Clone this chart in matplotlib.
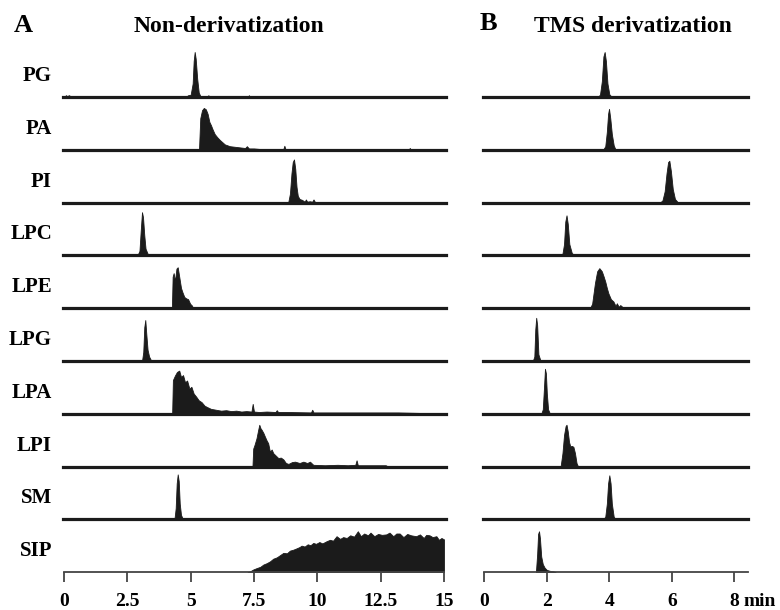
import matplotlib.pyplot as plt

plt.rcParams['font.family'] = ['Liberation Serif', 'DejaVu Serif']
plt.rcParams['font.weight'] = 'bold'

W, H = 780, 610

lipids = ["PG", "PA", "PI", "LPC", "LPE", "LPG", "LPA", "LPI", "SM", "SIP"]

# --- A: non-derivatization (time in min, relative intensity) ---
pg_nd_t = [0.0, 0.08, 0.12, 0.2, 0.3, 4.8, 4.9, 5.0, 5.08, 5.12, 5.16, 5.2, 5.26, 5.32, 5.4, 5.65, 5.7, 5.75, 7.25, 7.3, 7.35]
pg_nd_h = [0, 4, 2, 4, 0, 0, 4, 5, 30, 80, 100, 85, 40, 10, 0, 0, 4, 0, 0, 4, 0]
pa_nd_t = [5.33, 5.38, 5.45, 5.52, 5.6, 5.67, 5.74, 5.8, 5.87, 5.95, 6.05, 6.15, 6.25, 6.35, 6.45, 6.55, 6.7, 6.85,
           7.0, 7.15, 7.22, 7.3, 7.5, 7.7, 8.0, 8.65, 8.7, 8.75, 9.0, 13.6, 13.65, 13.7]
pa_nd_h = [0, 70, 88, 93, 90, 80, 62, 55, 45, 35, 28, 22, 17, 12, 10, 8, 7, 6, 5, 4, 8, 3, 3, 2, 0, 0, 9, 0, 0, 0, 4, 0]
pi_nd_t = [8.85, 8.92, 8.98, 9.03, 9.08, 9.13, 9.18, 9.23, 9.3, 9.4, 9.5, 9.55, 9.6, 9.7, 9.8, 9.85, 9.9, 10.0]
pi_nd_h = [0, 20, 65, 90, 96, 75, 35, 15, 8, 6, 2, 7, 2, 3, 2, 7, 2, 0]
lpc_nd_t = [2.9, 2.98, 3.03, 3.08, 3.12, 3.17, 3.22, 3.3, 3.4]
lpc_nd_h = [0, 10, 55, 96, 85, 45, 15, 4, 0]
lpe_nd_t = [4.26, 4.29, 4.33, 4.38, 4.44, 4.49, 4.55, 4.62, 4.68, 4.75, 4.82, 4.9, 4.98, 5.05, 5.1]
lpe_nd_h = [0, 70, 78, 60, 88, 91, 70, 45, 35, 25, 22, 20, 10, 6, 0]
lpg_nd_t = [3.08, 3.13, 3.17, 3.21, 3.25, 3.3, 3.36, 3.45]
lpg_nd_h = [0, 20, 75, 91, 60, 25, 10, 0]
lpa_nd_t = [4.27, 4.3, 4.38, 4.46, 4.55, 4.62, 4.7, 4.78, 4.86, 4.95, 5.03, 5.12, 5.22, 5.32, 5.43, 5.55, 5.65, 5.8,
            6.0, 6.2, 6.4, 6.6, 6.8, 7.0, 7.2, 7.4, 7.45, 7.5, 7.7, 8.0, 8.35, 8.4, 8.45, 8.8, 9.75, 9.8, 9.85,
            10.5, 11.0, 11.7, 12.4, 13.2, 14.0, 15.0]
lpa_nd_h = [0, 75, 85, 93, 96, 82, 86, 70, 74, 56, 60, 45, 38, 30, 26, 18, 15, 11, 9, 7, 8, 6, 7, 5, 6, 5, 22, 5,
            4, 5, 4, 8, 4, 4, 3, 9, 3, 3, 3, 3, 3, 3, 2, 0]
lpi_nd_t = [7.44, 7.47, 7.52, 7.6, 7.66, 7.71, 7.76, 7.8, 7.87, 7.93, 8.0, 8.06, 8.13, 8.2, 8.26, 8.35, 8.46, 8.56,
            8.66, 8.76, 8.86, 9.0, 9.12, 9.3, 9.45, 9.6, 9.71, 9.84, 10.3, 10.8, 11.2, 11.5, 11.55, 11.6, 12.0,
            12.7, 12.8]
lpi_nd_h = [0, 40, 48, 63, 80, 93, 85, 82, 75, 67, 58, 52, 33, 38, 30, 25, 19, 20, 16, 8, 6, 10, 11, 8, 11, 8, 11,
            4, 3, 4, 3, 4, 14, 3, 3, 3, 0]
sm_nd_t = [4.36, 4.41, 4.45, 4.49, 4.53, 4.57, 4.62, 4.7]
sm_nd_h = [0, 25, 80, 100, 85, 35, 10, 0]
sip_nd_t = [7.25, 7.35, 7.47, 7.6, 7.75, 7.87, 8.0, 8.13, 8.26, 8.4, 8.53, 8.66, 8.8, 8.92, 9.05, 9.18, 9.3, 9.38,
            9.5, 9.62, 9.73, 9.84, 9.95, 10.08, 10.2, 10.37, 10.5, 10.62, 10.76, 10.9, 11.02, 11.16, 11.3, 11.45,
            11.6, 11.72, 11.85, 12.0, 12.1, 12.25, 12.4, 12.55, 12.72, 12.85, 13.0, 13.12, 13.25, 13.4, 13.55,
            13.7, 13.9, 14.05, 14.2, 14.3, 14.43, 14.55, 14.7, 14.8, 14.9, 15.0, 15.0]
sip_nd_h = [0, 2, 6, 9, 12, 17, 20, 24, 30, 33, 38, 43, 42, 48, 50, 53, 56, 59, 57, 62, 60, 65, 63, 67, 64, 69, 72,
            70, 80, 74, 78, 76, 82, 79, 91, 80, 86, 82, 88, 80, 85, 83, 84, 88, 80, 86, 86, 78, 85, 82, 80, 84, 76,
            83, 82, 78, 80, 72, 76, 73, 0]

# --- B: TMS derivatization ---
pg_tms_t = [3.62, 3.7, 3.76, 3.81, 3.85, 3.89, 3.94, 4.0, 4.08]
pg_tms_h = [0, 5, 35, 90, 100, 80, 30, 6, 0]
pa_tms_t = [3.8, 3.87, 3.92, 3.96, 3.99, 4.03, 4.08, 4.14, 4.2]
pa_tms_h = [0, 8, 40, 80, 91, 70, 35, 10, 0]
pi_tms_t = [5.62, 5.7, 5.77, 5.83, 5.88, 5.92, 5.97, 6.03, 6.1, 6.2]
pi_tms_h = [0, 5, 25, 65, 90, 93, 70, 30, 8, 0]
lpc_tms_t = [2.42, 2.5, 2.55, 2.59, 2.63, 2.67, 2.72, 2.8, 2.9]
lpc_tms_h = [0, 4, 25, 75, 89, 70, 25, 5, 0]
lpe_tms_t = [3.38, 3.45, 3.54, 3.61, 3.68, 3.76, 3.82, 3.87, 3.92, 3.97, 4.05, 4.13, 4.2, 4.24, 4.3, 4.35, 4.4, 4.45]
lpe_tms_h = [0, 10, 56, 82, 89, 82, 70, 59, 45, 33, 20, 15, 5, 11, 3, 7, 4, 0]
lpg_tms_t = [1.55, 1.6, 1.63, 1.66, 1.69, 1.73, 1.8]
lpg_tms_h = [0, 10, 70, 96, 80, 15, 0]
lpa_tms_t = [1.82, 1.87, 1.91, 1.94, 1.97, 2.0, 2.04, 2.1]
lpa_tms_h = [0, 10, 60, 100, 90, 45, 10, 0]
lpi_tms_t = [2.44, 2.5, 2.55, 2.6, 2.63, 2.67, 2.71, 2.75, 2.8, 2.85, 2.9, 2.95, 3.0]
lpi_tms_h = [0, 30, 70, 90, 93, 78, 55, 45, 46, 44, 30, 8, 0]
sm_tms_t = [3.8, 3.87, 3.92, 3.96, 4.0, 4.04, 4.08, 4.14, 4.2]
sm_tms_h = [0, 6, 35, 80, 98, 80, 35, 6, 0]
sip_tms_t = [1.65, 1.69, 1.72, 1.75, 1.78, 1.82, 1.87, 1.93, 2.0, 2.1, 2.2, 2.28]
sip_tms_h = [0, 40, 85, 91, 75, 35, 18, 10, 5, 3, 2, 0]

nd_ticks = [0, 2.5, 5, 7.5, 10, 12.5, 15]
nd_ticklabels = ["0", "2.5", "5", "7.5", "10", "12.5", "15"]
tms_ticks = [0, 2, 4, 6, 8]
tms_ticklabels = ["0", "2", "4", "6", "8"]

nd_traces = [(pg_nd_t, pg_nd_h), (pa_nd_t, pa_nd_h), (pi_nd_t, pi_nd_h), (lpc_nd_t, lpc_nd_h),
             (lpe_nd_t, lpe_nd_h), (lpg_nd_t, lpg_nd_h), (lpa_nd_t, lpa_nd_h), (lpi_nd_t, lpi_nd_h),
             (sm_nd_t, sm_nd_h), (sip_nd_t, sip_nd_h)]
tms_traces = [(pg_tms_t, pg_tms_h), (pa_tms_t, pa_tms_h), (pi_tms_t, pi_tms_h), (lpc_tms_t, lpc_tms_h),
              (lpe_tms_t, lpe_tms_h), (lpg_tms_t, lpg_tms_h), (lpa_tms_t, lpa_tms_h), (lpi_tms_t, lpi_tms_h),
              (sm_tms_t, sm_tms_h), (sip_tms_t, sip_tms_h)]

fig = plt.figure(figsize=(7.8, 6.1), dpi=100)

ROW0 = 97.0      # baseline of first row, px from top
STEP = 52.8      # row spacing, px
PEAK_PX = 45.0   # px for intensity 100
INK = "#1b1b1b"
TICK_LEN, TICK_PAD = 7, 8

panels = [
    (nd_traces, (-0.05, 15.08), 62.7, 383.3, nd_ticks, nd_ticklabels, None),
    (tms_traces, (-0.03, 8.45), 483.4, 265.0, tms_ticks, tms_ticklabels, "min"),
]

for traces, xlim, left, width, ticks, ticklabels, unit in panels:
    for i, (t, h) in enumerate(traces):
        base = ROW0 + STEP * i
        ax = fig.add_axes([left / W, 1 - base / H, width / W, STEP / H])
        ax.patch.set_visible(False)
        ax.fill_between(t, h, 0, color=INK, lw=0.6, edgecolor=INK)
        ax.set_xlim(*xlim)
        ax.set_ylim(0, 100 * STEP / PEAK_PX)
        for s in ("top", "left", "right"):
            ax.spines[s].set_visible(False)
        ax.set_yticks([])
        if i < len(traces) - 1:
            ax.spines["bottom"].set_linewidth(2.3)
            ax.spines["bottom"].set_color(INK)
            ax.set_xticks([])
            continue
        # bottom row carries the time axis
        ax.spines["bottom"].set_linewidth(1.3)
        ax.spines["bottom"].set_color("#444444")
        ax.spines["bottom"].set_bounds(0, xlim[1] if unit else ticks[-1])
        ax.set_xticks(ticks)
        ax.set_xticklabels(ticklabels, fontsize=14, fontweight="bold")
        ax.tick_params(axis="x", direction="out", length=TICK_LEN, width=1.3, color="#444444", pad=TICK_PAD)
        if unit:
            ax.annotate(unit, xy=(ticks[-1], 0), xycoords=("data", "axes fraction"),
                        xytext=(6.5, -(TICK_LEN + TICK_PAD)), textcoords="offset points",
                        ha="left", va="top", fontsize=14, fontweight="bold")

for i, name in enumerate(lipids):
    y = ROW0 + STEP * i - 21
    fig.text(52 / W, 1 - y / H, name, ha="right", va="center", fontsize=15, fontweight="bold")

fig.text(23 / W, 1 - 25 / H, "A", ha="center", va="center", fontsize=19, fontweight="bold")
fig.text(229 / W, 1 - 26 / H, "Non-derivatization", ha="center", va="center", fontsize=17, fontweight="bold")
fig.text(488 / W, 1 - 24 / H, "B", ha="center", va="center", fontsize=19, fontweight="bold")
fig.text(633 / W, 1 - 26 / H, "TMS derivatization", ha="center", va="center", fontsize=17, fontweight="bold")

fig.savefig("out.png", dpi=100)
